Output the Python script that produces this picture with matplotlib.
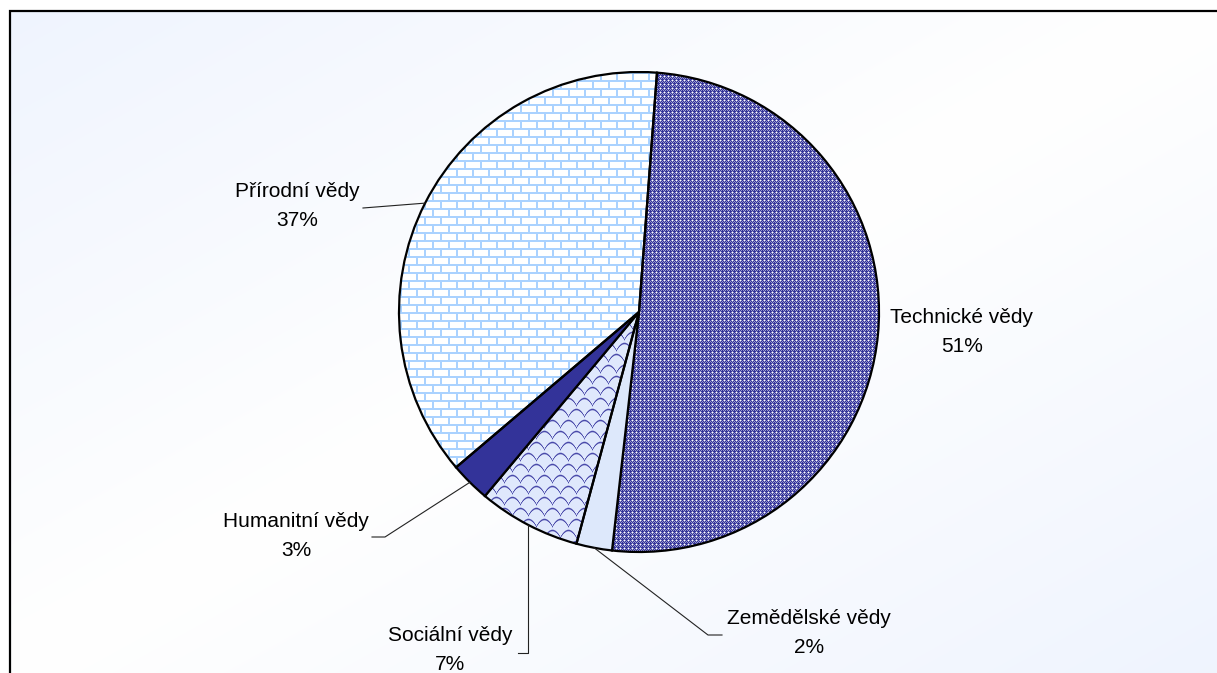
import numpy as np
import matplotlib
matplotlib.use('Agg')
import matplotlib.pyplot as plt

plt.rcParams['font.family'] = ['Liberation Sans', 'DejaVu Sans']

# data
categories = ['Technické vědy', 'Zemědělské vědy', 'Sociální vědy', 'Humanitní vědy', 'Přírodní vědy']
shares = [50.6, 2.4, 6.9, 2.7, 37.4]

W, H = 1217, 673
CX, CY, R = 639, H - 312, 240

fig = plt.figure(figsize=(W / 100, H / 100), dpi=100)
ax = fig.add_axes([0, 0, 1, 1])

yy, xx = np.mgrid[0:H, 0:W]

# background: diagonal gradient light blue -> white -> light blue
t = (xx / W + yy / H) / 2
f = np.abs(t - 0.5) * 2
blue = np.array([0.937, 0.957, 0.996])
bg = 1 - f[..., None] * (1 - blue)
bg[(xx < 10) | (yy < 11)] = 1.0
ax.imshow(bg, extent=(0, W, 0, H), origin='upper', interpolation='nearest', zorder=0)


def rgb(h):
    h = h.lstrip('#')
    return np.array([int(h[i:i + 2], 16) / 255 for i in (0, 2, 4)])


# fill patterns
N, L, Wt = rgb('#333399'), rgb('#9999cc'), rgb('#ffffff')
tile = np.array([[Wt, L, N, L],
                 [L, N, L, N],
                 [N, L, N, L],
                 [L, N, N, N]])
pat_tech = tile[yy % 4, xx % 4]

row = yy // 8
mortar = ((yy % 8) < 2) | (((xx + (row % 2) * 8) % 16) < 2)
pat_brick = np.where(mortar[..., None], rgb('#aad2ff'), rgb('#ffffff'))

srow = yy // 11
ly = (yy % 11).astype(float)
lx = ((xx + (srow % 2) * 8) % 16).astype(float)
yc = 2.0 + 7.0 * ((lx - 8) / 8) ** 2
wgt = np.clip(1.2 - np.abs(ly - yc) / 1.1, 0, 1)[..., None]
pat_soc = (1 - wgt) * rgb('#dfe8fc') + wgt * rgb('#4a4aaa')

colors = ['none', '#dde8fb', 'none', '#333399', 'none']
patterns = {0: pat_tech, 2: pat_soc, 4: pat_brick}

wedges, _ = ax.pie(shares, startangle=90 - 4.3, counterclock=False,
                   center=(CX, CY), radius=R, colors=colors,
                   wedgeprops=dict(edgecolor='black', linewidth=1.6))
for w in wedges:
    w.set_zorder(2)

for i, pat in patterns.items():
    im = ax.imshow(pat, extent=(0, W, 0, H), origin='upper',
                   interpolation='nearest', zorder=1)
    im.set_clip_path(wedges[i])

# labels (pixel positions, y from top) and leader elbows
label_pos = [(962, 332), (809, 633), (450, 650), (296, 536), (297, 206)]
elbows = [None, [(708, 635), (722, 635)], [(518, 653)],
          [(385, 537), (372, 537)], [(363, 208)]]

for i, (name, val) in enumerate(zip(categories, shares)):
    lx_, ly_ = label_pos[i]
    ax.text(lx_, H - ly_, f'{name}\n{round(val):.0f}%', ha='center', va='center',
            fontsize=15, linespacing=1.64, color='black', zorder=5)
    if elbows[i] is None:
        continue
    w = wedges[i]
    mid = np.deg2rad((w.theta1 + w.theta2) / 2)
    ex, ey = CX + R * np.cos(mid), CY + R * np.sin(mid)
    pts = [(ex, ey)]
    if i == 2:
        pts.append((ex, H - elbows[i][0][1]))
    for p in elbows[i]:
        pts.append((p[0], H - p[1]))
    xs, ys = zip(*pts)
    ax.plot(xs, ys, color='#222222', lw=0.8, zorder=3)

# chart border (top and left visible, cropped at right/bottom)
ax.plot([10, 10, W + 5], [-5, H - 11, H - 11], color='black', lw=1.6, zorder=6,
        solid_joinstyle='miter')

ax.set_xlim(0, W)
ax.set_ylim(0, H)
ax.set_aspect('auto')
ax.axis('off')

fig.savefig('out.png', dpi=100)
